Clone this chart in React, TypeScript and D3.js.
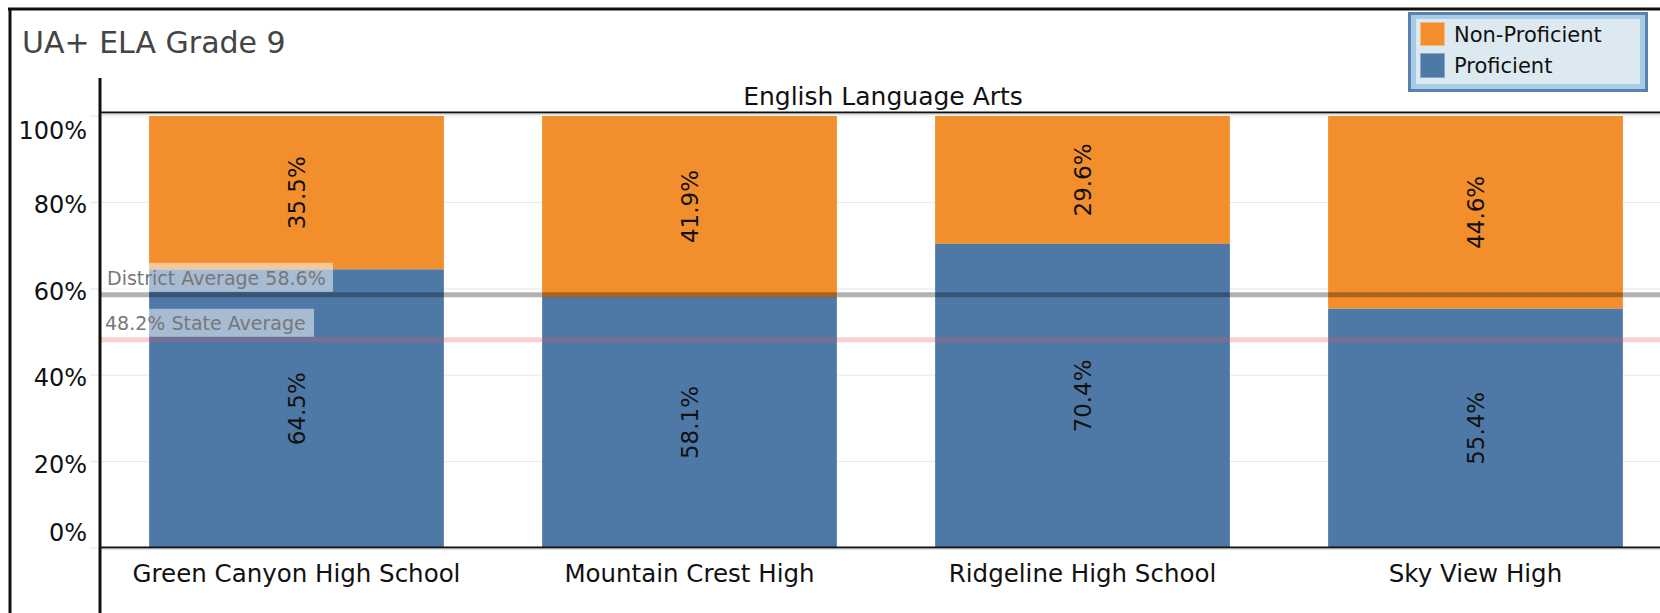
import * as d3 from 'd3';

const schools = ['Green Canyon High School', 'Mountain Crest High', 'Ridgeline High School', 'Sky View High'];
const proficient = [64.5, 58.1, 70.4, 55.4];
const nonProficient = [35.5, 41.9, 29.6, 44.6];
const yTicks = [0, 20, 40, 60, 80, 100];
const districtAvg = 58.6;
const stateAvg = 48.2;

const W = 1660;
const H = 613;
const FONT = '"DejaVu Sans", sans-serif';
const ORANGE = '#F28E2B';
const BLUE = '#4E79A7';

export default function App() {
  const x = d3.scaleBand<string>().domain(schools).range([100, 1672]).paddingInner(0.25).paddingOuter(0.125);
  const y = d3.scaleLinear().domain([0, 100]).range([548, 116]);
  const fmt = (v: number) => `${v.toFixed(1)}%`;

  return (
    <svg width={W} height={H} style={{ position: 'absolute', left: 0, top: 0, background: '#fff' }} fontFamily={FONT}>
      {/* outer frame */}
      <line x1={8} x2={W} y1={9} y2={9} stroke="#111" strokeWidth={3} />
      <line x1={10} x2={10} y1={8} y2={H} stroke="#111" strokeWidth={3} />

      <text x={22} y={53} fontSize={30} fill="#444">UA+ ELA Grade 9</text>

      {/* gridlines */}
      {yTicks.map((t) => (
        <line key={t} x1={90} x2={W} y1={y(t)} y2={y(t)} stroke="#e8e8e8" strokeWidth={1} />
      ))}

      {/* bars */}
      {schools.map((s, i) => {
        const x0 = x(s)!;
        const bw = x.bandwidth();
        const cx = x0 + bw / 2;
        const pTop = y(proficient[i]);
        const nTop = y(proficient[i] + nonProficient[i]);
        return (
          <g key={s}>
            <rect x={x0} y={nTop} width={bw} height={pTop - nTop} fill={ORANGE} />
            <rect x={x0} y={pTop} width={bw} height={y(0) - pTop} fill={BLUE} />
            <text transform={`translate(${cx},${(nTop + pTop) / 2}) rotate(-90)`} textAnchor="middle" dominantBaseline="central" fontSize={23} fill="#111">
              {fmt(nonProficient[i])}
            </text>
            <text transform={`translate(${cx},${(pTop + y(0)) / 2}) rotate(-90)`} textAnchor="middle" dominantBaseline="central" fontSize={23} fill="#111">
              {fmt(proficient[i])}
            </text>
            <text x={cx} y={582} textAnchor="middle" fontSize={24.5} fill="#111">{s}</text>
          </g>
        );
      })}

      {/* reference lines */}
      <line x1={100} x2={W} y1={y(districtAvg)} y2={y(districtAvg)} stroke="#000" strokeOpacity={0.3} strokeWidth={5} />
      <line x1={100} x2={W} y1={y(stateAvg)} y2={y(stateAvg)} stroke="#e15759" strokeOpacity={0.28} strokeWidth={5} />
      <rect x={101} y={y(districtAvg) - 32} width={232} height={29} fill="#fff" fillOpacity={0.5} />
      <text x={107} y={y(districtAvg) - 10} fontSize={19} fill="#777">District Average {districtAvg}%</text>
      <rect x={101} y={y(stateAvg) - 31} width={213} height={28} fill="#fff" fillOpacity={0.5} />
      <text x={105} y={y(stateAvg) - 10} fontSize={19} fill="#777">{stateAvg}% State Average</text>

      {/* y axis tick labels */}
      {yTicks.map((t) => (
        <text key={t} x={87} y={Math.min(533, Math.max(131, y(t) + 3))} textAnchor="end" dominantBaseline="central" fontSize={24} fill="#111">
          {t}%
        </text>
      ))}

      {/* header */}
      <text x={x.range()[0] + (x.step() * schools.length) / 2 - 3} y={105} textAnchor="middle" fontSize={25} fill="#111">English Language Arts</text>
      <line x1={100} x2={W} y1={112.5} y2={112.5} stroke="#111" strokeWidth={2} />
      <line x1={100} x2={W} y1={114} y2={114} stroke="#bbb" strokeWidth={1} />

      {/* axes */}
      <line x1={100} x2={W} y1={547.5} y2={547.5} stroke="#111" strokeWidth={2} />
      <line x1={100} x2={W} y1={549} y2={549} stroke="#bbb" strokeWidth={1} />
      <line x1={100} x2={100} y1={78} y2={H} stroke="#111" strokeWidth={3} />

      {/* legend */}
      <rect x={1409.5} y={13.5} width={237} height={77} fill="#a9cce6" stroke="#5a82b0" strokeWidth={3} />
      <rect x={1416} y={19} width={224} height={65} fill="#dde9f0" />
      <rect x={1420.5} y={22.5} width={24} height={23} fill={ORANGE} stroke="#f6b880" strokeWidth={1} />
      <rect x={1420.5} y={53.5} width={24} height={24} fill={BLUE} stroke="#8aa9c8" strokeWidth={1} />
      <text x={1454} y={42} fontSize={21} fill="#111">Non-Proficient</text>
      <text x={1454} y={73} fontSize={21} fill="#111">Proficient</text>
    </svg>
  );
}
